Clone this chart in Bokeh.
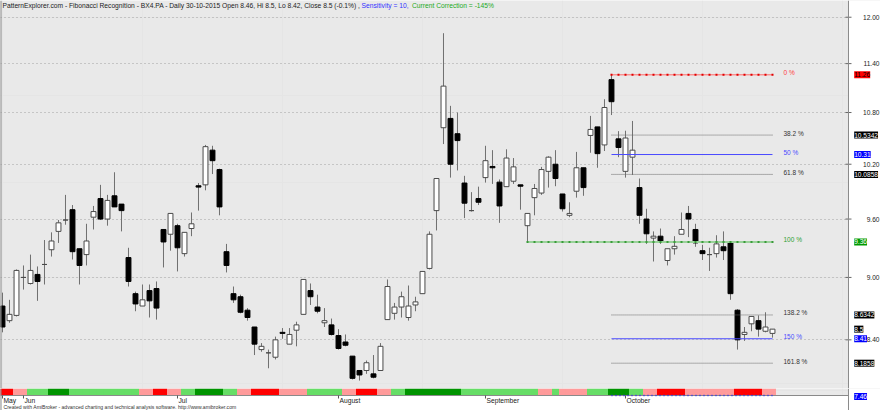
from bokeh.plotting import figure
from bokeh.models import (Range1d, FixedTicker, Label, ColumnDataSource, Grid,
                          BoxAnnotation, Span, LogScale)
from bokeh.layouts import column
from bokeh.embed import file_html
from bokeh.resources import INLINE
from bokeh.core.properties import value

# ---------------- data ----------------
opens = [8.72, 8.58, 8.63, 9.00, 8.94, 9.03, 9.13, 9.28, 9.47, 9.59,
         9.70, 9.29, 9.23, 9.62, 9.82, 9.60, 9.85, 9.76, 9.20, 8.84,
         8.72, 8.87, 8.89, 9.49, 9.44, 9.53, 9.24, 9.50, 9.96, 9.97,
         10.36, 10.14, 9.26, 8.84, 8.81, 8.68, 8.52, 8.31, 8.28, 8.24,
         8.47, 8.36, 8.49, 8.64, 8.87, 8.71, 8.56, 8.54, 8.44, 8.38,
         8.25, 8.12, 8.12, 8.09, 8.12, 8.59, 8.65, 8.71, 8.61, 8.73,
         8.84, 9.09, 9.69, 10.62, 10.73, 10.55, 9.99, 9.69, 9.82, 10.05,
         10.175, 10.00, 9.95, 10.01, 9.97, 9.53, 9.83, 9.88, 10.12, 10.20,
         9.87, 9.64, 9.90, 10.16, 10.53, 10.63, 10.42, 11.20, 10.49, 10.12,
         10.28, 9.94, 9.60, 9.40, 9.42, 9.17, 9.29, 9.44, 9.66, 9.49,
         9.27, 9.23, 9.24, 9.31, 9.35, 8.68, 8.45, 8.55, 8.58, 8.48,
         8.46]
highs = [8.85, 8.78, 9.08, 9.12, 9.23, 9.11, 9.38, 9.46, 9.59, 9.86,
         9.75, 9.29, 9.55, 9.74, 9.97, 9.86, 10.11, 9.76, 9.30, 8.86,
         8.93, 8.93, 8.96, 9.49, 9.66, 9.55, 9.46, 9.67, 9.99, 10.42,
         10.41, 10.15, 9.34, 8.91, 8.83, 8.70, 8.52, 8.37, 8.31, 8.43,
         8.51, 8.51, 8.57, 8.98, 8.94, 8.83, 8.70, 8.60, 8.50, 8.45,
         8.25, 8.12, 8.21, 8.26, 8.37, 8.98, 8.75, 8.86, 8.92, 8.81,
         9.06, 9.47, 10.04, 11.79, 10.88, 10.80, 10.07, 9.89, 9.95, 10.41,
         10.36, 10.03, 10.37, 10.27, 9.97, 9.66, 9.98, 10.17, 10.29, 10.36,
         9.87, 9.78, 10.34, 10.16, 10.76, 10.63, 10.96, 11.26, 10.58, 10.585,
         10.70, 10.04, 9.71, 9.47, 9.50, 9.29, 9.42, 9.67, 9.74, 9.55,
         9.33, 9.30, 9.43, 9.47, 9.36, 8.69, 8.52, 8.62, 8.63, 8.66,
         8.50]
lows = [8.47, 8.56, 8.62, 8.88, 8.93, 8.77, 8.93, 9.21, 9.35, 9.54,
        9.18, 8.93, 9.12, 9.49, 9.59, 9.53, 9.73, 9.47, 8.91, 8.67,
        8.72, 8.61, 8.59, 9.10, 9.27, 9.06, 9.21, 9.42, 9.69, 9.91,
        10.09, 9.64, 9.05, 8.75, 8.65, 8.58, 8.26, 8.29, 8.14, 8.22,
        8.41, 8.36, 8.34, 8.64, 8.73, 8.65, 8.52, 8.44, 8.31, 8.34,
        8.04, 8.03, 8.09, 8.05, 8.12, 8.59, 8.59, 8.61, 8.58, 8.67,
        8.84, 9.08, 9.48, 10.43, 10.05, 10.13, 9.61, 9.68, 9.75, 9.995,
        9.98, 9.56, 9.95, 9.98, 9.70, 9.36, 9.64, 9.86, 9.94, 9.955,
        9.68, 9.62, 9.83, 9.85, 10.33, 10.16, 10.35, 10.77, 10.28, 10.05,
        10.08, 9.55, 9.34, 9.16, 9.34, 9.12, 9.23, 9.44, 9.41, 9.31,
        9.175, 9.065, 9.20, 9.175, 8.78, 8.31, 8.39, 8.48, 8.43, 8.47,
        8.42]
closes = [8.52, 8.64, 9.07, 9.00, 9.07, 8.96, 9.13, 9.37, 9.56, 9.59,
          9.26, 9.12, 9.37, 9.68, 9.60, 9.80, 9.73, 9.69, 8.96, 8.74,
          8.78, 8.77, 8.70, 9.36, 9.66, 9.30, 9.46, 9.55, 9.945, 10.40,
          10.24, 9.73, 9.12, 8.78, 8.66, 8.61, 8.36, 8.34, 8.28, 8.40,
          8.46, 8.45, 8.54, 8.98, 8.81, 8.67, 8.58, 8.45, 8.32, 8.35,
          8.05, 8.08, 8.19, 8.06, 8.34, 8.91, 8.71, 8.81, 8.72, 8.76,
          9.06, 9.44, 10.04, 11.12, 10.20, 10.47, 9.77, 9.69, 9.78, 10.24,
          10.16, 9.74, 10.27, 10.17, 9.955, 9.66, 9.93, 10.14, 10.28, 10.04,
          9.71, 9.66, 10.16, 9.94, 10.60, 10.32, 10.86, 10.93, 10.39, 10.50,
          10.36, 9.64, 9.445, 9.42, 9.37, 9.29, 9.315, 9.49, 9.60, 9.35,
          9.24, 9.23, 9.34, 9.27, 8.84, 8.40, 8.47, 8.62, 8.50, 8.52,
          8.50]

# trend strip, one code per bar: R red, P pink, G light green, D dark green
strip_codes = ("RRPPGGGDDD" "GGGGGGGGGG" "PPRRPPGGDD" "DDGGPPRRRR" "PPPPGGGGGP"
               "PRRRPPGGDD" "DDDDDDGGGG" "GGGGGGGPPG" "PPPPGGGDDD" "GGPPRRRRPP"
               "PPPPPRRRRPP")

month_idx = [0, 3, 25, 48, 69, 89]
month_names = ["May", "Jun", "Jul", "August", "September", "October"]
y_ticks = [8.40, 9.00, 9.60, 10.20, 10.80, 11.40, 12.00]

fib_names = ["0 %", "38.2 %", "50 %", "61.8 %", "100 %", "138.2 %", "150 %", "161.8 %"]
fib_values = [11.26, 10.5342, 10.31, 10.0858, 9.36, 8.6342, 8.41, 8.1858]
fib_start = [87, 87, 87, 87, 75, 87, 87, 87]
fib_end = 110
last_close = 8.5
level_200 = 7.46
level_200_start = 87

title_parts = ["PatternExplorer.com - Fibonacci Recognition - BX4.PA - Daily 30-10-2015 Open 8.46, Hi 8.5, Lo 8.42, Close 8.5 (-0.1%) ,",
               "Sensitivity = 10,",
               "Current Correction = -145%"]
footer = "Created with AmiBroker - advanced charting and technical analysis software. http://www.amibroker.com"

# ---------------- layout / styles ----------------
FONT = "Liberation Sans"
W, H_MAIN, H_BOT = 880, 388, 22
X_START, X_END, PRICE_END = -0.2857, 125.43, 120.857   # frame edges and price-axis line
STRIP_TOP, STRIP_BOT = 22, 15                          # rows of the bottom panel (px)
BG = "#e9e9e9"
AX = "#8a8a8a"
strip_colors = {"R": "#ff0000", "P": "#ff9b9b", "G": "#66dd66", "D": "#009400"}
fib_style = {
    "0 %": dict(color="#ff6a6a", dash="solid", width=1, text="#ff4040", dots="#e00000"),
    "38.2 %": dict(color="#6a6a6a", dash="1 1", width=1, text="#333333", dots=None),
    "50 %": dict(color="#4a4aff", dash="solid", width=1, text="#4a4aff", dots=None),
    "61.8 %": dict(color="#6a6a6a", dash="1 1", width=1, text="#333333", dots=None),
    "100 %": dict(color="#9ad29a", dash="solid", width=2, text="#2fa02f", dots="#3a9a3a"),
    "138.2 %": dict(color="#6a6a6a", dash="1 1", width=1, text="#333333", dots=None),
    "150 %": dict(color="#4a4aff", dash="solid", width=1, text="#4a4aff", dots=None),
    "161.8 %": dict(color="#6a6a6a", dash="1 1", width=1, text="#333333", dots=None),
}
box_style = {
    "0 %": ("#ff0000", "black"), "38.2 %": ("black", "white"), "50 %": ("#0000ff", "white"),
    "61.8 %": ("black", "white"), "100 %": ("#009a00", "white"), "138.2 %": ("black", "white"),
    "150 %": ("#0000ff", "white"), "161.8 %": ("black", "white"),
}

xr = Range1d(X_START, X_END)

# ---------------- main price panel ----------------
p = figure(width=W, height=H_MAIN, x_range=xr, y_range=Range1d(7.96, 12.224),
           y_axis_type="log", x_axis_location=None, y_axis_location=None,
           output_backend="svg", toolbar_location=None,
           min_border_left=0, min_border_right=0, min_border_top=0, min_border_bottom=0,
           background_fill_color=BG, border_fill_color="white", outline_line_color=None)
p.y_scale = LogScale()

p.add_layout(Grid(dimension=1, ticker=FixedTicker(ticks=y_ticks),
                  grid_line_color="#a0a0a0", grid_line_dash="1 3"))
p.add_layout(BoxAnnotation(left=PRICE_END, fill_color="white", fill_alpha=1,
                           line_color=None, level="underlay"))
p.add_layout(Span(location=PRICE_END, dimension="height", line_color=AX, line_width=1))
p.add_layout(Span(location=X_START, dimension="height", line_color=AX, line_width=2))

# price scale ticks and labels
p.scatter(x=[PRICE_END] * len(y_ticks), y=y_ticks, marker="dash", size=6,
          line_color="#666666", line_width=1)
p.text(x=[PRICE_END] * len(y_ticks), y=y_ticks, text=[f"{t:.2f}" for t in y_ticks],
       x_offset=31, text_align="right", text_baseline="middle",
       text_font=value(FONT), text_font_size="6.6px", text_color="#222222")

# candles
idx = list(range(len(opens)))
src = ColumnDataSource(dict(
    x=idx, o=opens, h=highs, l=lows, c=closes,
    top=[max(o, c) for o, c in zip(opens, closes)],
    bottom=[min(o, c) for o, c in zip(opens, closes)],
    fill=["white" if c >= o else "black" for o, c in zip(opens, closes)],
    edge=["#4a4a4a" if c >= o else "black" for o, c in zip(opens, closes)],
))
p.segment(x0="x", y0="l", x1="x", y1="h", source=src, line_color="#707070", line_width=1)
p.vbar(x="x", width=0.7, top="top", bottom="bottom", fill_color="fill",
       line_color="edge", line_width=1, source=src)

# fibonacci levels
for name, val, st in zip(fib_names, fib_values, fib_start):
    s = fib_style[name]
    p.segment(x0=[st], y0=[val], x1=[fib_end], y1=[val], line_color=s["color"],
              line_dash=s["dash"], line_width=s["width"])
    if s["dots"]:
        xs = list(range(st, fib_end + 1))
        p.scatter(x=xs, y=[val] * len(xs), marker="square", size=2,
                  fill_color=s["dots"], line_color=None)

fsrc = ColumnDataSource(dict(x=[fib_end] * len(fib_names), y=fib_values, t=fib_names,
                             c=[fib_style[n]["text"] for n in fib_names]))
p.text(x="x", y="y", text="t", source=fsrc, text_color="c", x_offset=11, y_offset=-2,
       text_font=value(FONT), text_font_size="6.5px", text_baseline="middle", text_align="left")

def box(fig, text, y, bg, fg):
    fig.add_layout(Label(x=PRICE_END, y=y, x_offset=5.7, text=text,
                         text_font=FONT, text_font_size="6.6px", text_color=fg,
                         text_baseline="middle", text_align="left",
                         background_fill_color=bg, padding=(0, 1)))

for name, val in zip(fib_names, fib_values):
    bg, fg = box_style[name]
    box(p, f"{val:g}", val, bg, fg)
box(p, f"{last_close:g}", last_close, "black", "white")

# title line
title_colors = ["#222222", "#3333ff", "#22aa22"]
title_x = [2, 361, 411.5]
for t, col, tx in zip(title_parts, title_colors, title_x):
    p.add_layout(Label(x=tx, x_units="screen", y=H_MAIN - 5, y_units="screen", text=t,
                       text_font=FONT, text_font_size="6.7px", text_color=col,
                       text_baseline="middle", text_align="left"))

# ---------------- bottom panel: trend strip, months, footer ----------------
b = figure(width=W, height=H_BOT, x_range=xr, y_range=Range1d(0, H_BOT),
           x_axis_location=None, y_axis_location=None,
           output_backend="svg", toolbar_location=None,
           min_border_left=0, min_border_right=0, min_border_top=0, min_border_bottom=0,
           background_fill_color=BG, border_fill_color="white", outline_line_color=None)
b.add_layout(BoxAnnotation(top=STRIP_BOT, fill_color="white", fill_alpha=1,
                           line_color=None, level="underlay"))
b.add_layout(BoxAnnotation(left=PRICE_END, fill_color="white", fill_alpha=1,
                           line_color=None, level="underlay"))
b.quad(left=[i - 0.5 for i in idx], right=[i + 0.5 for i in idx],
       top=STRIP_TOP, bottom=STRIP_BOT,
       fill_color=[strip_colors[k] for k in strip_codes], line_color=None)
b.segment(x0=[X_START], y0=[STRIP_BOT], x1=[PRICE_END], y1=[STRIP_BOT], line_color=AX)
b.segment(x0=[level_200_start], y0=[STRIP_BOT], x1=[fib_end], y1=[STRIP_BOT],
          line_color="#2020ff", line_dash="1 3", line_width=1.5)
b.add_layout(Span(location=PRICE_END, dimension="height", line_color=AX, line_width=1))
b.add_layout(Span(location=X_START, dimension="height", line_color=AX, line_width=2))

# month ticks and labels
b.segment(x0=month_idx, y0=[STRIP_BOT] * len(month_idx), x1=month_idx,
          y1=[STRIP_BOT - 3] * len(month_idx), line_color="#555555")
b.text(x=month_idx, y=[STRIP_BOT - 4.6] * len(month_idx), text=month_names, x_offset=1,
       text_align="left", text_baseline="middle", text_font=value(FONT),
       text_font_size="6.7px", text_color="#222222")

box(b, f"{level_200:g}", STRIP_BOT - 1, "#0000ff", "white")
b.add_layout(Label(x=3, x_units="screen", y=3.8, text=footer,
                   text_font=FONT, text_font_size="5.1px", text_color="#333333",
                   text_baseline="middle", text_align="left"))

layout = column(p, b)
open("out.html", "w").write(file_html(layout, INLINE))
